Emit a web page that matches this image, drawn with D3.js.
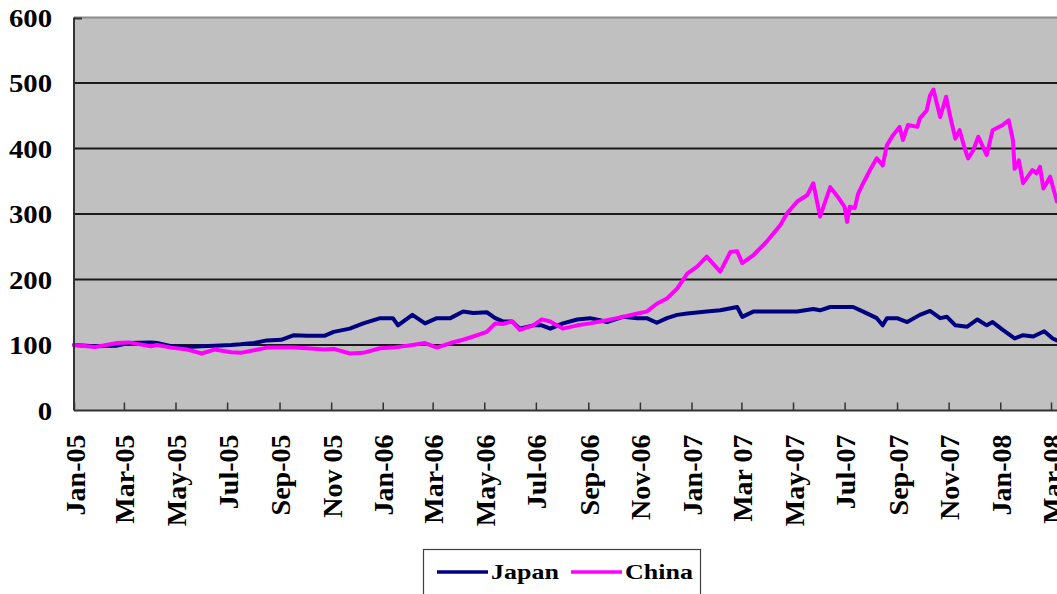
<!doctype html>
<html>
<head>
<meta charset="utf-8">
<script src="https://cdnjs.cloudflare.com/ajax/libs/d3/7.8.5/d3.min.js"></script>
<style>
  body { margin: 0; background: #fff; }
  svg { display: block; }
  text { font-family: "Liberation Serif", "Times New Roman", serif; font-weight: bold; fill: #000; }
</style>
</head>
<body>
<svg id="chart" width="1057" height="594"></svg>
<script>
// ---- data (index, Jan 2005 = 100) ----
var japanDates = ["2005-01-01","2005-01-25","2005-02-21","2005-03-07","2005-04-02","2005-04-09","2005-04-26","2005-05-15","2005-06-01","2005-06-16",
  "2005-07-06","2005-07-17","2005-08-02","2005-08-17","2005-09-03","2005-09-18","2005-10-03","2005-10-24","2005-11-04","2005-11-23",
  "2005-12-09","2005-12-29","2006-01-13","2006-01-19","2006-02-05","2006-02-20","2006-03-06","2006-03-22","2006-04-06","2006-04-18",
  "2006-05-04","2006-05-14","2006-05-23","2006-06-03","2006-06-12","2006-06-28","2006-07-08","2006-07-18","2006-08-02","2006-08-19",
  "2006-09-03","2006-09-15","2006-09-23","2006-10-12","2006-10-29","2006-11-09","2006-11-21","2006-12-03","2006-12-15","2006-12-27",
  "2007-01-19","2007-02-04","2007-02-24","2007-03-02","2007-03-15","2007-03-31","2007-05-06","2007-05-25","2007-06-02","2007-06-14",
  "2007-07-11","2007-07-23","2007-08-08","2007-08-15","2007-08-20","2007-09-01","2007-09-13","2007-09-28","2007-10-10","2007-10-22",
  "2007-10-30","2007-11-09","2007-11-23","2007-12-05","2007-12-16","2007-12-23","2008-01-04","2008-01-18","2008-01-28","2008-02-09",
  "2008-02-22","2008-03-03","2008-03-08"];
var japanValues = [100,98,99,103,104,103,98,97,98,99,
  100,101,103,107,108,115,114,114,120,125,
  133,141,141,130,146,133,141,141,151,149,
  150,141,136,136,125,130,130,125,133,139,
  141,138,135,143,141,141,134,141,146,148,
  151,153,158,143,151,151,151,155,153,158,
  158,151,141,130,141,141,135,146,152,141,
  143,130,128,139,130,135,123,110,115,113,
  121,110,107];

var chinaDates = ["2005-01-01","2005-01-26","2005-02-21","2005-03-07","2005-03-20","2005-04-02","2005-04-09","2005-04-26","2005-05-15","2005-06-01",
  "2005-06-16","2005-07-06","2005-07-17","2005-08-02","2005-08-17","2005-09-03","2005-09-18","2005-10-03","2005-10-24","2005-11-04",
  "2005-11-23","2005-12-09","2005-12-29","2006-01-13","2006-02-05","2006-02-20","2006-03-06","2006-03-22","2006-04-06","2006-04-18",
  "2006-05-04","2006-05-14","2006-05-23","2006-06-03","2006-06-12","2006-06-28","2006-07-08","2006-07-18","2006-08-02","2006-08-19",
  "2006-09-03","2006-09-15","2006-09-23","2006-10-12","2006-10-29","2006-11-09","2006-11-21","2006-12-03","2006-12-15","2006-12-27",
  "2007-01-08","2007-01-19","2007-02-04","2007-02-16","2007-02-24","2007-03-02","2007-03-15","2007-03-31","2007-04-16","2007-04-24",
  "2007-05-06","2007-05-18","2007-05-25","2007-06-02","2007-06-14","2007-06-23","2007-07-01","2007-07-04","2007-07-07","2007-07-13",
  "2007-07-17","2007-07-23","2007-07-31","2007-08-08","2007-08-15","2007-08-20","2007-08-27","2007-09-04","2007-09-08","2007-09-14",
  "2007-09-25","2007-09-28","2007-10-06","2007-10-10","2007-10-14","2007-10-18","2007-10-22","2007-10-29","2007-11-03","2007-11-09",
  "2007-11-14","2007-11-20","2007-11-24","2007-11-30","2007-12-06","2007-12-16","2007-12-23","2008-01-04","2008-01-11","2008-01-16",
  "2008-01-18","2008-01-23","2008-01-28","2008-02-08","2008-02-13","2008-02-17","2008-02-21","2008-02-29","2008-03-08"];
var chinaValues = [100,97,103,104,101,98,100,96,93,87,
  93,89,88,92,96,96,96,95,93,94,
  87,88,95,96,100,103,96,103,108,113,
  120,133,132,136,123,130,139,136,125,130,
  133,136,138,143,148,151,163,171,186,209,
  220,235,212,242,243,225,237,258,283,301,
  319,329,347,296,341,326,311,288,311,309,
  331,347,367,385,374,405,420,433,413,436,
  433,446,458,481,490,469,448,479,448,415,
  428,400,385,397,418,390,428,436,443,413,
  369,382,347,367,362,372,339,357,319];

var tickDates = ["2005-01-01","2005-03-01","2005-05-01","2005-07-01","2005-09-01","2005-11-01","2006-01-01","2006-03-01","2006-05-01","2006-07-01",
  "2006-09-01","2006-11-01","2007-01-01","2007-03-01","2007-05-01","2007-07-01","2007-09-01","2007-11-01","2008-01-01","2008-03-01"];
var tickLabels = ["Jan-05","Mar-05","May-05","Jul-05","Sep-05","Nov 05","Jan-06","Mar-06","May-06","Jul-06",
  "Sep-06","Nov-06","Jan-07","Mar 07","May-07","Jul-07","Sep-07","Nov-07","Jan-08","Mar-08"];
var yTicks = [0, 100, 200, 300, 400, 500, 600];

var seriesNames = ["Japan", "China"];
var seriesColors = ["#000080", "#ff00ff"];

// ---- layout ----
var parse = d3.timeParse("%Y-%m-%d");
var svg = d3.select("#chart");
var plotLeft = 74, plotRight = 1066, plotTop = 17.5, plotBottom = 410.5;

var x = d3.scaleTime()
  .domain([parse("2005-01-01"), parse("2008-03-01")])
  .range([plotLeft, 1051]);
var y = d3.scaleLinear().domain([0, 600]).range([plotBottom, plotTop]);

function pairs(dates, vals) {
  return dates.map(function(d, i) { return {date: parse(d), value: vals[i]}; });
}
var series = [pairs(japanDates, japanValues), pairs(chinaDates, chinaValues)];

// plot background
svg.append("rect")
  .attr("x", plotLeft).attr("y", plotTop)
  .attr("width", plotRight - plotLeft).attr("height", plotBottom - plotTop)
  .style("fill", "#c0c0c0");
svg.append("line")
  .attr("x1", plotLeft).attr("x2", plotRight).attr("y1", plotTop).attr("y2", plotTop)
  .style("stroke", "#8a8a8a").style("stroke-width", 2);

// gridlines
svg.selectAll("line.grid")
  .data(yTicks.filter(function(t) { return t > 0 && t < 600; }))
  .enter().append("line")
  .attr("class", "grid")
  .attr("x1", plotLeft).attr("x2", plotRight)
  .attr("y1", function(d) { return y(d); })
  .attr("y2", function(d) { return y(d); })
  .style("stroke", "#1a1a1a").style("stroke-width", 1.8);

// series
var line = d3.line()
  .x(function(d) { return x(d.date); })
  .y(function(d) { return y(d.value); });

series.forEach(function(s, i) {
  svg.append("path")
    .datum(s)
    .attr("d", line)
    .style("fill", "none")
    .style("stroke", seriesColors[i])
    .style("stroke-width", 4)
    .style("stroke-linejoin", "round")
    .style("stroke-linecap", "round");
});

// left axis line
svg.append("line")
  .attr("x1", plotLeft).attr("x2", plotLeft).attr("y1", plotTop).attr("y2", plotBottom)
  .style("stroke", "#333").style("stroke-width", 2);
svg.append("line")
  .attr("x1", plotLeft).attr("x2", plotLeft + 8).attr("y1", plotTop + 1).attr("y2", plotTop + 1)
  .style("stroke", "#333").style("stroke-width", 2);

// x axis, ticks pointing inward
var xAxis = d3.axisBottom(x)
  .tickValues(tickDates.map(parse))
  .tickSizeInner(-8)
  .tickSizeOuter(0)
  .tickFormat(function(d, i) { return tickLabels[i]; });

var gx = svg.append("g")
  .attr("transform", "translate(0," + plotBottom + ")")
  .call(xAxis);
gx.select(".domain").attr("d", "M" + plotLeft + ",0H" + plotRight)
  .style("stroke", "#333").style("stroke-width", 2);
gx.selectAll(".tick line").style("stroke", "#333").style("stroke-width", 1.5);
gx.selectAll(".tick text")
  .attr("y", 0).attr("x", 0).attr("dy", null)
  .attr("transform", "translate(10,24) rotate(-90)")
  .style("text-anchor", "end")
  .style("font-size", "28px")
  .style("font-family", "'Liberation Serif', 'Times New Roman', serif")
  .style("font-weight", "bold");

// y labels
svg.selectAll("text.ylab")
  .data(yTicks)
  .enter().append("text")
  .attr("class", "ylab")
  .attr("transform", function(d) { return "translate(52," + (y(d) + 9) + ") scale(1.15,1)"; })
  .style("text-anchor", "end")
  .style("font-size", "25px")
  .text(function(d) { return d; });

// legend
var legend = svg.append("g");
legend.append("rect")
  .attr("x", 423.5).attr("y", 549.5)
  .attr("width", 277).attr("height", 60)
  .style("fill", "#fff").style("stroke", "#404040").style("stroke-width", 1.2);

var legendX = [437, 571];
seriesNames.forEach(function(name, i) {
  legend.append("line")
    .attr("x1", legendX[i]).attr("x2", legendX[i] + 51)
    .attr("y1", 572).attr("y2", 572)
    .style("stroke", seriesColors[i]).style("stroke-width", 3.5);
  legend.append("text")
    .attr("transform", "translate(" + (legendX[i] + 54) + ",579) scale(1.3,1)")
    .style("font-size", "20px")
    .text(name);
});
</script>
</body>
</html>
